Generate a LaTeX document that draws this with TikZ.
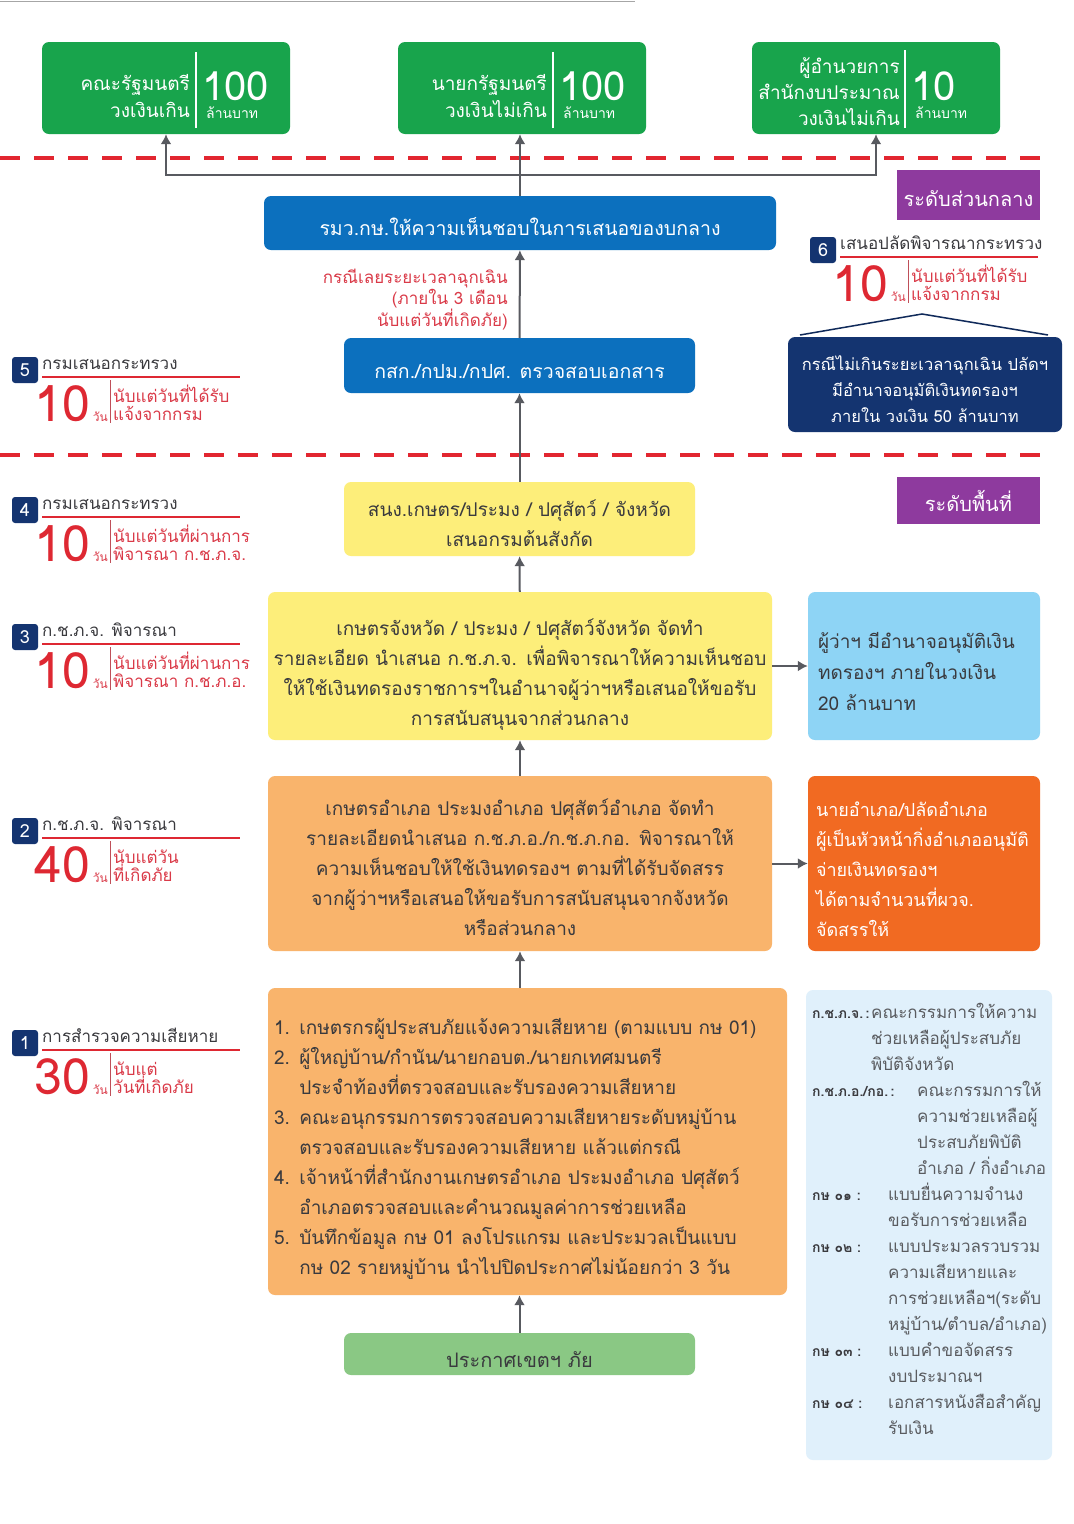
\documentclass[tikz,border=0pt]{standalone}
\usepackage{fontspec}
\setmainfont[Script=Thai]{Loma}
\usetikzlibrary{arrows.meta}

\definecolor{cabgreen}{RGB}{24,164,76}
\definecolor{zonered}{RGB}{226,38,48}
\definecolor{linkgray}{RGB}{88,90,96}
\definecolor{flowblue}{RGB}{12,112,190}
\definecolor{deepnavy}{RGB}{20,52,112}
\definecolor{levelpurple}{RGB}{142,58,158}
\definecolor{paleyellow}{RGB}{253,238,122}
\definecolor{skyblue}{RGB}{142,212,245}
\definecolor{softorange}{RGB}{249,180,108}
\definecolor{hotorange}{RGB}{241,106,34}
\definecolor{mintgreen}{RGB}{138,200,132}
\definecolor{glossblue}{RGB}{224,240,251}
\definecolor{dayred}{RGB}{222,40,50}
\definecolor{notered}{RGB}{218,58,72}
\definecolor{inkgray}{RGB}{58,58,62}
\definecolor{glossgray}{RGB}{90,92,96}

\newcommand{\fsize}[2]{\fontsize{#1}{#2}\selectfont}

% deadline mark: name, x, y, number, title, days, note line 1, note line 2
\newcommand{\deadline}[8]{%
  \node[badge] (#1) at (#2+13,#3+13) {#4};
  \node[dltitle,anchor=base west] (#1title) at (#2+30,#3+12) {#5};
  \draw[dlrule] (#2+30,#3+20) -- (#2+228,#3+20);
  \node[dlunit,anchor=base east] (#1unit) at (#2+96,#3+64) {วัน};
  \node[dldays,anchor=base east] (#1days) at ([xshift=-2.5pt]#1unit.base west) {#6};
  \draw[dlsplit] (#2+98,#3+23) -- (#2+98,#3+66);
  \node[dlnote,anchor=base west] (#1note) at (#2+101,#3+45) {#7};
  \node[dlnote,anchor=base west] (#1notes) at (#2+101,#3+63) {#8};
}

\begin{document}
\begin{tikzpicture}[x=1pt,y=-1pt,
  sink/.style={execute at begin node={\rule{0pt}{#1}}},
  box/.style={rounded corners=7pt,inner sep=0pt,align=center,sink=1.3em},
  greenbox/.style={rounded corners=7pt,fill=cabgreen,minimum width=248pt,minimum height=92pt},
  greentext/.style={text=white,align=right,inner sep=0pt,font=\fsize{19}{27}},
  bignum/.style={text=white,inner sep=0pt,font=\fsize{40}{40}},
  bigunit/.style={text=white,inner sep=0pt,font=\fsize{14}{14}},
  divider/.style={white,line width=1.5pt},
  bluebox/.style={box,fill=flowblue,text=white,font=\fsize{19.5}{26},sink=1.25em},
  navybox/.style={box,fill=deepnavy,text=white,font=\fsize{16.5}{26},sink=1.45em},
  levelbox/.style={fill=levelpurple,text=white,inner sep=0pt,minimum width=143pt,font=\fsize{20}{24},sink=1.15em},
  yellowbox/.style={box,fill=paleyellow,text=inkgray,font=\fsize{19}{30}},
  orangebox/.style={box,fill=softorange,text=inkgray,font=\fsize{19}{30}},
  sidebox/.style={box,align=left,font=\fsize{19}{31},sink=1.45em},
  glossbox/.style={rounded corners=7pt,fill=glossblue,minimum width=246pt,minimum height=470pt},
  glosskey/.style={inner sep=0pt,text=inkgray,font=\bfseries\fsize{14}{26}},
  glossbody/.style={inner sep=0pt,text=glossgray,font=\fsize{17}{26}},
  rednote/.style={inner sep=0pt,align=right,text=notered,font=\fsize{17}{21}},
  badge/.style={fill=deepnavy,text=white,rounded corners=3pt,minimum size=26pt,inner sep=0pt,font=\fsize{18}{18}},
  dltitle/.style={inner sep=0pt,text=inkgray,font=\fsize{17}{17}},
  dlrule/.style={dayred,line width=1.5pt},
  dlsplit/.style={notered!70!gray,line width=0.8pt},
  dldays/.style={inner sep=0pt,text=dayred,font=\fsize{50}{50}},
  dlunit/.style={inner sep=0pt,text=notered,font=\fsize{12}{12}},
  dlnote/.style={inner sep=0pt,text=notered,font=\fsize{17}{17}},
  zoneline/.style={zonered,line width=4pt,dash pattern=on 20pt off 14pt},
  flow/.style={->,>={Latex[length=10pt,width=11pt]},draw=linkgray,line width=2pt},
  roofline/.style={draw=deepnavy!80!black,line width=1.5pt}]
\useasboundingbox (0,0) rectangle (1074,1524);
\fill[white] (0,0) rectangle (1074,1524);
\draw[gray!70,line width=1pt] (0,1) -- (635,1);

% zone borders
\draw[zoneline] (0,158) -- (1040,158);
\draw[zoneline] (0,455) -- (1040,455);

% approval levels
\node[greenbox] (cabinet) at (166,88) {};
\node[greentext,anchor=east] (cabinetname) at (190,96) {คณะรัฐมนตรี\\วงเงินเกิน};
\draw[divider] (196,52) -- (196,128);
\node[bignum,anchor=base west] (cabinetnum) at (202,100) {100};
\node[bigunit,anchor=base west] at (206,118) {ล้านบาท};

\node[greenbox] (premier) at (522,88) {};
\node[greentext,anchor=east] (premiername) at (547,96) {นายกรัฐมนตรี\\วงเงินไม่เกิน};
\draw[divider] (553,52) -- (553,128);
\node[bignum,anchor=base west] (premiernum) at (559,100) {100};
\node[bigunit,anchor=base west] at (563,118) {ล้านบาท};

\node[greenbox] (director) at (876,88) {};
\node[greentext,anchor=east,font=\fsize{19}{26}] (directorname) at (900,92) {ผู้อำนวยการ\\สำนักงบประมาณ\\วงเงินไม่เกิน};
\draw[divider] (905,50) -- (905,128);
\node[bignum,anchor=base west] (directornum) at (911,100) {10};
\node[bigunit,anchor=base west] at (915,118) {ล้านบาท};

\node[levelbox,minimum height=50pt] (central) at (968.5,195) {ระดับส่วนกลาง};
\node[levelbox,minimum height=47pt] (local) at (968.5,500.5) {ระดับพื้นที่};

% central flow
\node[bluebox,minimum width=512pt,minimum height=54pt] (minister) at (520,223) {รมว.กษ.ให้ความเห็นชอบในการเสนอของบกลาง};
\node[bluebox,minimum width=351pt,minimum height=55pt] (docs) at (519.5,365.5) {กสก./กปม./กปศ. ตรวจสอบเอกสาร};
\node[rednote,anchor=east] (latenote) at (508,300) {กรณีเลยระยะเวลาฉุกเฉิน\\(ภายใน 3 เดือน\\นับแต่วันที่เกิดภัย)};

\node[navybox,minimum width=274pt,minimum height=95pt,text width=270pt] (permsec) at (925,384.5) {กรณีไม่เกินระยะเวลาฉุกเฉิน ปลัดฯ\\มีอำนาจอนุมัติเงินทดรองฯ\\ภายใน วงเงิน 50 ล้านบาท};
\coordinate (roofleft) at (800,335);
\coordinate (rooftop) at (922,314);
\coordinate (roofright) at (1048,335);
\draw[roofline] (roofleft) -- (rooftop) -- (roofright);

% local flow
\node[yellowbox,minimum width=351pt,minimum height=74pt,text width=345pt] (office) at (519.5,519) {สนง.เกษตร/ประมง / ปศุสัตว์ / จังหวัด\\เสนอกรมต้นสังกัด};
\node[yellowbox,sink=1.75em,minimum width=504pt,minimum height=148pt,text width=500pt] (province) at (520,666) {เกษตรจังหวัด / ประมง / ปศุสัตว์จังหวัด จัดทำ\\รายละเอียด นำเสนอ ก.ช.ภ.จ. เพื่อพิจารณาให้ความเห็นชอบ\\ให้ใช้เงินทดรองราชการฯในอำนาจผู้ว่าฯหรือเสนอให้ขอรับ\\การสนับสนุนจากส่วนกลาง};
\node[sidebox,fill=skyblue,text=inkgray,minimum width=232pt,minimum height=148pt,text width=212pt] (governor) at (924,666) {ผู้ว่าฯ มีอำนาจอนุมัติเงิน\\ทดรองฯ ภายในวงเงิน\\20 ล้านบาท};
\node[orangebox,minimum width=504pt,minimum height=175pt,text width=500pt] (district) at (520,863.5) {เกษตรอำเภอ ประมงอำเภอ ปศุสัตว์อำเภอ จัดทำ\\รายละเอียดนำเสนอ ก.ช.ภ.อ./ก.ช.ภ.กอ. พิจารณาให้\\ความเห็นชอบให้ใช้เงินทดรองฯ ตามที่ได้รับจัดสรร\\จากผู้ว่าฯหรือเสนอให้ขอรับการสนับสนุนจากจังหวัด\\หรือส่วนกลาง};
\node[sidebox,fill=hotorange,text=white,font=\fsize{18}{30},sink=1.4em,minimum width=232pt,minimum height=175pt,text width=216pt] (sheriff) at (924,863.5) {นายอำเภอ/ปลัดอำเภอ\\ผู้เป็นหัวหน้ากิ่งอำเภออนุมัติ\\จ่ายเงินทดรองฯ\\ได้ตามจำนวนที่ผวจ.\\จัดสรรให้};
\node[orangebox,align=left,sink=1.65em,minimum width=519pt,minimum height=307pt,text width=507pt] (survey) at (527.5,1141.5) {1. เกษตรกรผู้ประสบภัยแจ้งความเสียหาย (ตามแบบ กษ 01)\\
2. ผู้ใหญ่บ้าน/กำนัน/นายกอบต./นายกเทศมนตรี\\
\hphantom{2. }ประจำท้องที่ตรวจสอบและรับรองความเสียหาย\\
3. คณะอนุกรรมการตรวจสอบความเสียหายระดับหมู่บ้าน\\
\hphantom{3. }ตรวจสอบและรับรองความเสียหาย แล้วแต่กรณี\\
4. เจ้าหน้าที่สำนักงานเกษตรอำเภอ ประมงอำเภอ ปศุสัตว์\\
\hphantom{4. }อำเภอตรวจสอบและคำนวณมูลค่าการช่วยเหลือ\\
5. บันทึกข้อมูล กษ 01 ลงโปรแกรม และประมวลเป็นแบบ\\
\hphantom{5. }กษ 02 รายหมู่บ้าน นำไปปิดประกาศไม่น้อยกว่า 3 วัน};
\node[box,fill=mintgreen,text=inkgray,font=\fsize{20}{24},sink=1.35em,minimum width=351pt,minimum height=42pt] (declare) at (519.5,1354) {ประกาศเขตฯ ภัย};

% connectors
\coordinate (hub) at (520,175);
\draw[flow] (minister.north) -- (minister.north |- premier.south);
\draw[flow] (hub) -| (cabinet);
\draw[flow] (hub) -| (director);
\draw[flow] (docs) -- (minister);
\draw[flow] (office) -- (docs);
\draw[flow] (province) -- (office);
\draw[flow] (district) -- (province);
\draw[flow] (district |- survey.north) -- (district);
\draw[flow] (declare) -- (declare |- survey.south);
\draw[flow] (province) -- (governor);
\draw[flow] (district) -- (sheriff);

% deadlines
\deadline{dl6}{810}{237}{6}{เสนอปลัดพิจารณากระทรวง}{10}{นับแต่วันที่ได้รับ}{แจ้งจากกรม}
\deadline{dl5}{12}{357}{5}{กรมเสนอกระทรวง}{10}{นับแต่วันที่ได้รับ}{แจ้งจากกรม}
\deadline{dl4}{12}{497}{4}{กรมเสนอกระทรวง}{10}{นับแต่วันที่ผ่านการ}{พิจารณา ก.ช.ภ.จ.}
\deadline{dl3}{12}{624}{3}{ก.ช.ภ.จ. พิจารณา}{10}{นับแต่วันที่ผ่านการ}{พิจารณา ก.ช.ภ.อ.}
\deadline{dl2}{12}{818}{2}{ก.ช.ภ.จ. พิจารณา}{40}{นับแต่วัน}{ที่เกิดภัย}
\deadline{dl1}{12}{1030}{1}{การสำรวจความเสียหาย}{30}{นับแต่}{วันที่เกิดภัย}

% glossary
\node[glossbox] (glossary) at (929,1225) {};
\node[glosskey,anchor=base west] (key1) at (812,1018) {ก.ช.ภ.จ.\,:};
\node[glossbody,anchor=north west] (body1) at (871,1000) {\begin{tabular}{@{}l@{}}คณะกรรมการให้ความ\\ช่วยเหลือผู้ประสบภัย\\พิบัติจังหวัด\end{tabular}};
\node[glosskey,anchor=base west] (key2) at (812,1096) {ก.ช.ภ.อ./กอ.\,:};
\node[glossbody,anchor=north west] (body2) at (917,1078) {\begin{tabular}{@{}l@{}}คณะกรรมการให้\\ความช่วยเหลือผู้\\ประสบภัยพิบัติ\\อำเภอ / กิ่งอำเภอ\end{tabular}};
\node[glosskey,anchor=base west] (key3) at (812,1200) {กษ ๐๑ :};
\node[glossbody,anchor=north west] (body3) at (888,1182) {\begin{tabular}{@{}l@{}}แบบยื่นความจำนง\\ขอรับการช่วยเหลือ\end{tabular}};
\node[glosskey,anchor=base west] (key4) at (812,1252) {กษ ๐๒ :};
\node[glossbody,anchor=north west] (body4) at (888,1234) {\begin{tabular}{@{}l@{}}แบบประมวลรวบรวม\\ความเสียหายและ\\การช่วยเหลือฯ(ระดับ\\หมู่บ้าน/ตำบล/อำเภอ)\end{tabular}};
\node[glosskey,anchor=base west] (key5) at (812,1356) {กษ ๐๓ :};
\node[glossbody,anchor=north west] (body5) at (888,1338) {\begin{tabular}{@{}l@{}}แบบคำขอจัดสรร\\งบประมาณฯ\end{tabular}};
\node[glosskey,anchor=base west] (key6) at (812,1408) {กษ ๐๔ :};
\node[glossbody,anchor=north west] (body6) at (888,1390) {\begin{tabular}{@{}l@{}}เอกสารหนังสือสำคัญ\\รับเงิน\end{tabular}};
\end{tikzpicture}
\end{document}
